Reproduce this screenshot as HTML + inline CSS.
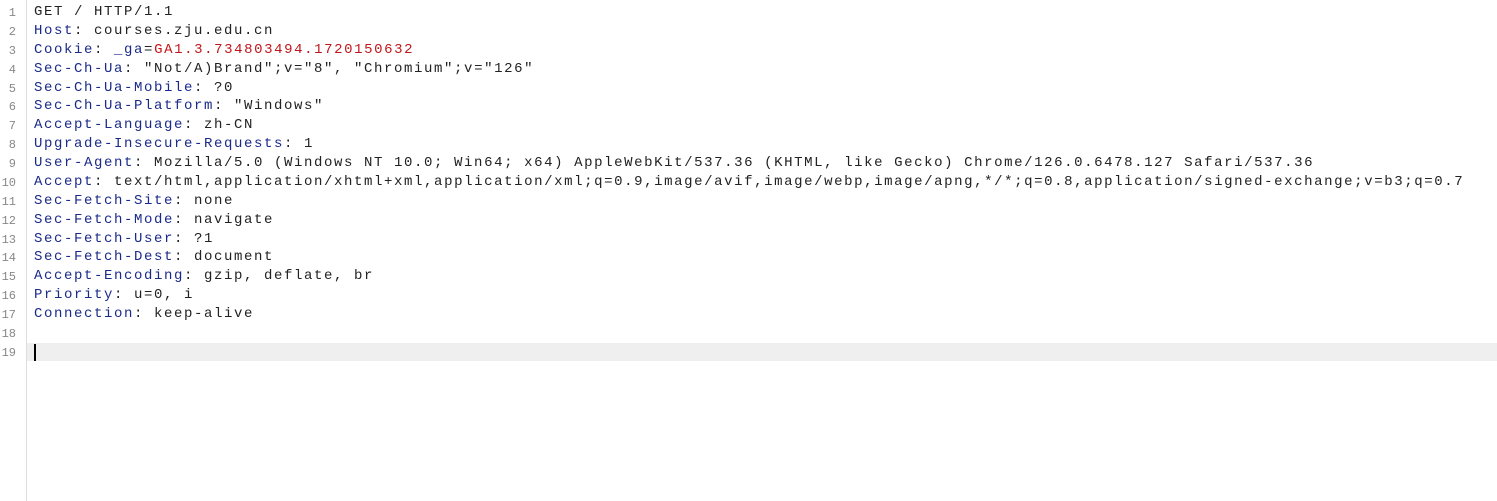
<!DOCTYPE html>
<html><head><style>
html,body{margin:0;padding:0;background:#fff;width:1497px;height:501px;overflow:hidden}
.g{position:absolute;left:0;top:0;width:26px;height:501px;border-right:1px solid #ddd;background:#fff}
.ln{position:absolute;left:0;width:16px;text-align:right;font:12px "Liberation Mono",monospace;color:#888}
.l{position:absolute;left:34px;font:14px "Liberation Mono",monospace;letter-spacing:1.6px;color:#222;white-space:pre;line-height:18px}
.k{color:#1a2a8a}.r{color:#c0161b}
.hl{position:absolute;left:27px;top:343px;width:1470px;height:18px;background:#efefef}
.cur{position:absolute;left:34px;top:344px;width:2px;height:17px;background:#000}
</style></head><body>
<div class="g"></div>
<div class="hl"></div><div class="cur"></div>
<div id="c"></div>
<div class="ln" style="top:6px">1</div><div class="l" style="top:3px">GET / HTTP/1.1</div>
<div class="ln" style="top:25px">2</div><div class="l" style="top:22px"><span class="k">Host</span>: courses.zju.edu.cn</div>
<div class="ln" style="top:44px">3</div><div class="l" style="top:41px"><span class="k">Cookie</span>: <span class="k">_ga</span>=<span class="r">GA1.3.734803494.1720150632</span></div>
<div class="ln" style="top:63px">4</div><div class="l" style="top:60px"><span class="k">Sec-Ch-Ua</span>: "Not/A)Brand";v="8", "Chromium";v="126"</div>
<div class="ln" style="top:82px">5</div><div class="l" style="top:79px"><span class="k">Sec-Ch-Ua-Mobile</span>: ?0</div>
<div class="ln" style="top:100px">6</div><div class="l" style="top:97px"><span class="k">Sec-Ch-Ua-Platform</span>: "Windows"</div>
<div class="ln" style="top:119px">7</div><div class="l" style="top:116px"><span class="k">Accept-Language</span>: zh-CN</div>
<div class="ln" style="top:138px">8</div><div class="l" style="top:135px"><span class="k">Upgrade-Insecure-Requests</span>: 1</div>
<div class="ln" style="top:157px">9</div><div class="l" style="top:154px"><span class="k">User-Agent</span>: Mozilla/5.0 (Windows NT 10.0; Win64; x64) AppleWebKit/537.36 (KHTML, like Gecko) Chrome/126.0.6478.127 Safari/537.36</div>
<div class="ln" style="top:176px">10</div><div class="l" style="top:173px"><span class="k">Accept</span>: text/html,application/xhtml+xml,application/xml;q=0.9,image/avif,image/webp,image/apng,*/*;q=0.8,application/signed-exchange;v=b3;q=0.7</div>
<div class="ln" style="top:195px">11</div><div class="l" style="top:192px"><span class="k">Sec-Fetch-Site</span>: none</div>
<div class="ln" style="top:214px">12</div><div class="l" style="top:211px"><span class="k">Sec-Fetch-Mode</span>: navigate</div>
<div class="ln" style="top:233px">13</div><div class="l" style="top:230px"><span class="k">Sec-Fetch-User</span>: ?1</div>
<div class="ln" style="top:251px">14</div><div class="l" style="top:248px"><span class="k">Sec-Fetch-Dest</span>: document</div>
<div class="ln" style="top:270px">15</div><div class="l" style="top:267px"><span class="k">Accept-Encoding</span>: gzip, deflate, br</div>
<div class="ln" style="top:289px">16</div><div class="l" style="top:286px"><span class="k">Priority</span>: u=0, i</div>
<div class="ln" style="top:308px">17</div><div class="l" style="top:305px"><span class="k">Connection</span>: keep-alive</div>
<div class="ln" style="top:327px">18</div>
<div class="ln" style="top:346px">19</div>
</body></html>
